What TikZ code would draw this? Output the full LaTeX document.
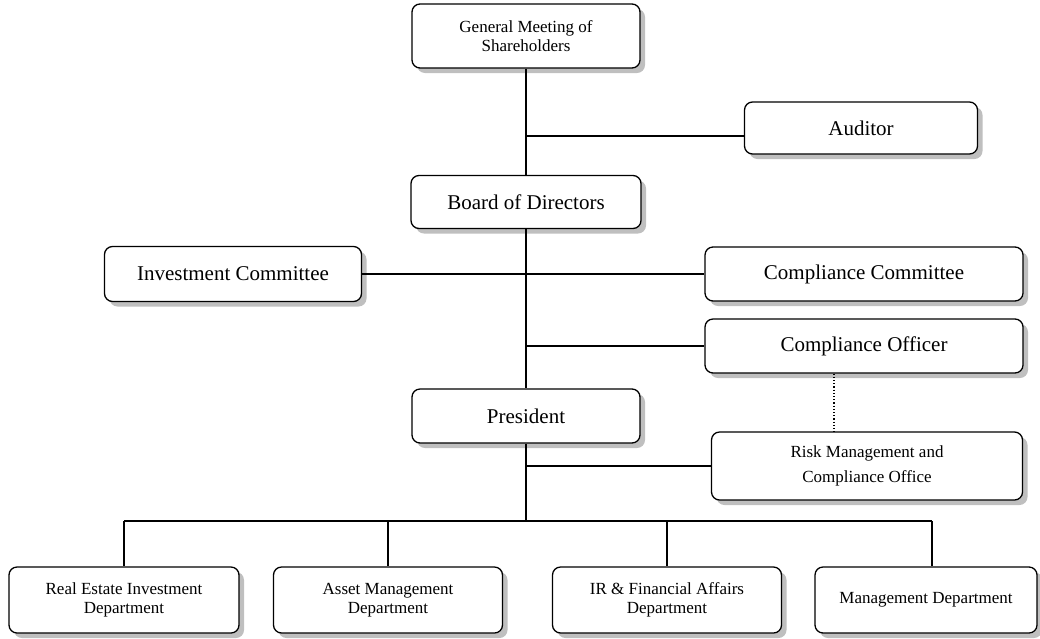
\documentclass[tikz,border=0pt]{standalone}
\usepackage{fontspec}
\setmainfont{Liberation Serif}
\usetikzlibrary{shadows}
\tikzset{
  orgbox/.style={draw,line width=1.3pt,rounded corners=8pt,fill=white,align=center,
    inner sep=2pt,drop shadow={shadow xshift=5pt,shadow yshift=-5pt,fill=black!25,opacity=1}},
  bigtxt/.style={font=\fontsize{21}{25}\selectfont},
  smalltxt/.style={font=\fontsize{17}{19}\selectfont},
  link/.style={line width=1.2pt}
}
\begin{document}
\begin{tikzpicture}[x=1pt,y=-1pt]
        \useasboundingbox (0,0) rectangle (1040,638);
        \node[orgbox,smalltxt,minimum width=228,minimum height=64] (gm) at (526,36) {General Meeting of\\Shareholders};
        \node[orgbox,bigtxt,minimum width=233,minimum height=52] (aud) at (861,128) {Auditor};
        \node[orgbox,bigtxt,minimum width=230,minimum height=53] (bod) at (526,202) {Board of Directors};
        \node[orgbox,bigtxt,minimum width=257,minimum height=55] (inv) at (233,274) {Investment Committee};
        \node[orgbox,bigtxt,minimum width=318,minimum height=54] (cc) at (864,274) {Compliance Committee};
        \node[orgbox,bigtxt,minimum width=318,minimum height=54] (co) at (864,346) {Compliance Officer};
        \node[orgbox,bigtxt,minimum width=228,minimum height=54] (pres) at (526,416) {President};
        \node[orgbox,smalltxt,minimum width=311,minimum height=68,
          font=\fontsize{17}{25}\selectfont] (rm) at (867,466) {Risk Management and\\Compliance Office};
        \node[orgbox,smalltxt,minimum width=230,minimum height=66] (re) at (124,600) {Real Estate Investment\\Department};
        \node[orgbox,smalltxt,minimum width=229,minimum height=66] (am) at (388,600) {Asset Management\\Department};
        \node[orgbox,smalltxt,minimum width=229,minimum height=66] (ir) at (667,600) {IR \& Financial Affairs\\Department};
        \node[orgbox,smalltxt,minimum width=222,minimum height=66] (mg) at (926,600) {Management Department};
        \coordinate (hub) at (526,521);
        \coordinate (mgtop) at ([xshift=6pt]mg.north);
        \draw[link] (gm.south) -- (bod.north);
        \draw[link] (bod.south) -- (pres.north);
        \draw[link] (pres.south) -- (hub);
        \draw[link] (gm.south |- 0,136) -- (aud.west |- 0,136);
        \draw[link] (inv.east) -- (cc.west);
        \draw[link] (co.west -| bod.south) -- (co.west);
        \draw[link] (rm.west -| pres.south) -- (rm.west);
        \draw[link,dotted] ([xshift=-30pt]co.south) -- ([xshift=-30pt]co.south |- rm.north);
        \draw[link] (hub -| re.north) -- (hub -| mgtop);
        \foreach \d in {re.north,am.north,ir.north,mgtop}
          \draw[link] (hub -| \d) -- (\d);
      \end{tikzpicture}
\end{document}
